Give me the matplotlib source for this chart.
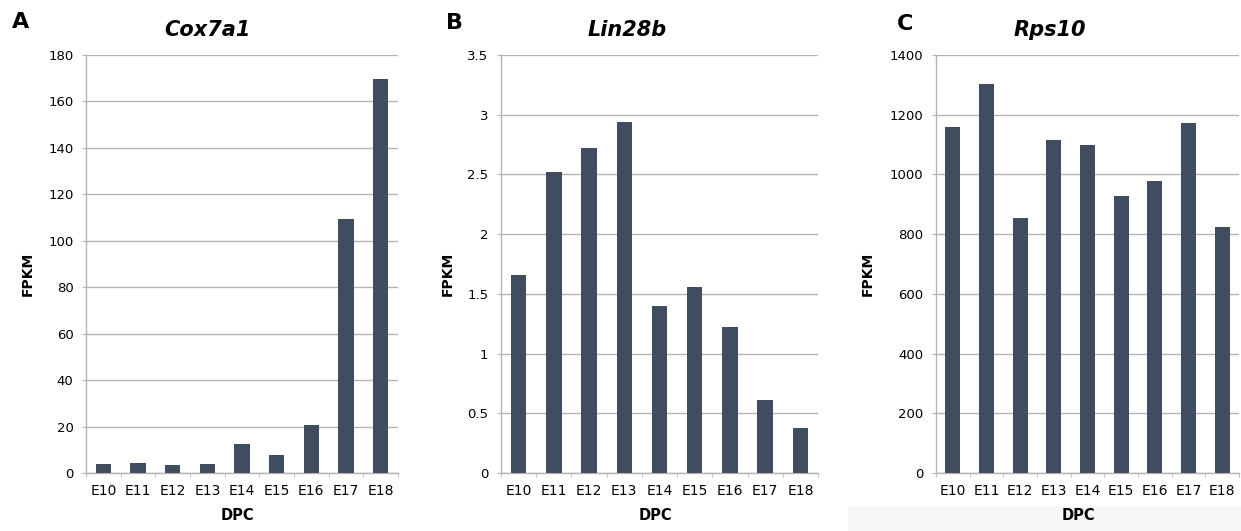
import numpy as np
import matplotlib.pyplot as plt
from matplotlib.ticker import MultipleLocator, FixedLocator
from matplotlib.patches import Rectangle

plt.rcParams['font.family'] = ['DejaVu Sans']

stages = ['E10', 'E11', 'E12', 'E13', 'E14', 'E15', 'E16', 'E17', 'E18']
cox7a1 = [3.9, 4.3, 3.3, 3.9, 12.3, 7.6, 20.5, 109.4, 169.8]
lin28b = [1.66, 2.52, 2.72, 2.94, 1.40, 1.555, 1.22, 0.61, 0.38]
rps10 = [1159, 1302, 855, 1114, 1099, 929, 977, 1172, 824]

genes = ['Cox7a1', 'Lin28b', 'Rps10']
letters = ['A', 'B', 'C']
series = [cox7a1, lin28b, rps10]
ymax = [180, 3.5, 1400]
ystep = [20, 0.5, 200]

# pixel layout of the three panels
boxes = [(86, 398), (501, 818), (936, 1239)]
title_x = [207, 627, 1050]
letter_pos = [(12, 22), (446, 23), (897, 24)]
ylabel_x = [28, 448, 868]
xlabel_x = [237, 655, 1078]

W, H = 1241, 531
bar_color = '#404d60'
grid_color = '#b4b4b4'

fig = plt.figure(figsize=(W / 100, H / 100), dpi=100)

# faint grey shading at the bottom right of the scan
fig.patches.append(Rectangle((848 / W, 0), 1 - 848 / W, 24 / H, transform=fig.transFigure,
                             facecolor='#f6f6f6', edgecolor='none', zorder=0))

for i in range(3):
    l, r = boxes[i]
    ax = fig.add_axes([l / W, 1 - 473 / H, (r - l) / W, (473 - 55) / H])
    ax.patch.set_alpha(0)
    x = np.arange(len(stages))
    ax.bar(x, series[i], width=0.44, color=bar_color, zorder=3)
    ax.set_xlim(-0.5, len(stages) - 0.5)
    ax.set_ylim(0, ymax[i])
    ax.yaxis.set_major_locator(MultipleLocator(ystep[i]))
    ax.yaxis.set_major_formatter(plt.FuncFormatter(lambda v, p: f'{v:g}'))
    ax.grid(axis='y', color=grid_color, linewidth=1, zorder=0)
    for s in ['top', 'right']:
        ax.spines[s].set_visible(False)
    for s in ['left', 'bottom']:
        ax.spines[s].set_color(grid_color)
        ax.spines[s].set_linewidth(1)
    ax.set_xticks(x)
    ax.set_xticklabels(stages, fontsize=10)
    ax.tick_params(axis='x', which='major', length=0, pad=8)
    ax.xaxis.set_minor_locator(FixedLocator(np.arange(-0.5, len(stages), 1)))
    ax.tick_params(axis='x', which='minor', length=3, color=grid_color, direction='out')
    ax.tick_params(axis='y', length=3, color=grid_color, labelsize=9.5, pad=6)
    fig.text(xlabel_x[i] / W, 1 - 515 / H, 'DPC', fontsize=10.5,
             fontweight='bold', ha='center', va='center')
    fig.text(ylabel_x[i] / W, 1 - 274 / H, 'FPKM', rotation=90, fontsize=10,
             fontweight='bold', ha='center', va='center')
    fig.text(title_x[i] / W, 1 - 30 / H, genes[i], fontsize=15, fontweight='bold',
             style='italic', ha='center', va='center')
    lx, ly = letter_pos[i]
    fig.text(lx / W, 1 - ly / H, letters[i], fontsize=16, fontweight='bold',
             ha='left', va='center')

fig.savefig('out.png', dpi=100)
